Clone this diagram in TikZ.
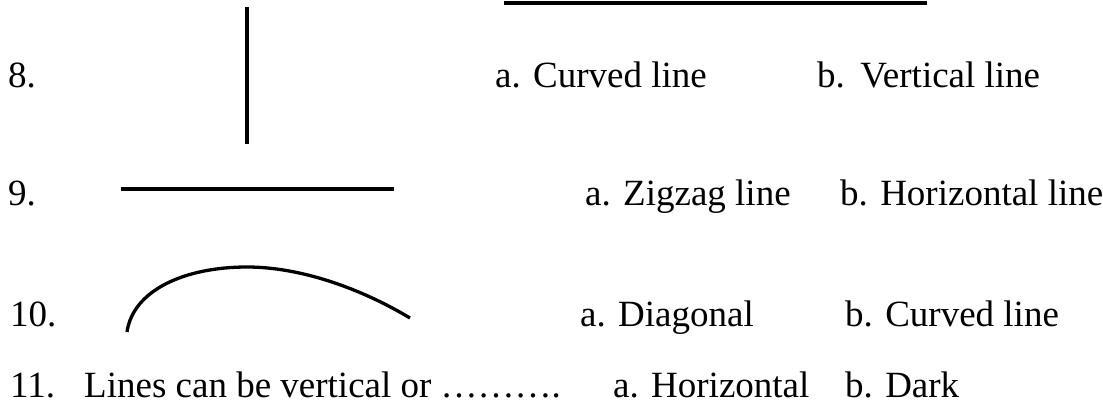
\documentclass[tikz,border=0pt]{standalone}
\usepackage{fontspec}
\setmainfont{Liberation Serif}

\begin{document}
\begin{tikzpicture}[x=1pt,y=-1pt,
	txt/.style={anchor=base west,inner sep=0pt,font=\fontsize{37}{44}\selectfont},
	stroke/.style={line width=4pt}]

\useasboundingbox (0,0) rectangle (1103,404);

% question 8
\node[txt] (n8) at (8,88) {8.};
\draw[stroke] (247,7)--(247,144);
\node[txt] (a8) at (495,88) {a. Curved line};
\node[txt] (b8) at (817,88) {b.\ \,Vertical line};
\draw[stroke] (504,3)--(927,3);

% question 9
\node[txt] (n9) at (8,205) {9.};
\draw[stroke] (121,189)--(394,189);
\node[txt] (a9) at (585,205) {a. Zigzag line};
\node[txt] (b9) at (840,205) {b. Horizontal line};

% question 10
\node[txt] (n10) at (10,326) {10.};
\draw[line width=3.3pt]
	(127,332) .. controls (133,290) and (185,267) .. (247,267)
	.. controls (300,267) and (360,288) .. (410,318);
\node[txt] (a10) at (580,326) {a. Diagonal};
\node[txt] (b10) at (845,326) {b. Curved line};

% question 11
\node[txt] (n11) at (10,397) {11.};
\node[txt] (q11) at (84,397) {Lines can be vertical or ……….};
\node[txt] (a11) at (613,397) {a. Horizontal};
\node[txt] (b11) at (845,397) {b. Dark};

\end{tikzpicture}
\end{document}
